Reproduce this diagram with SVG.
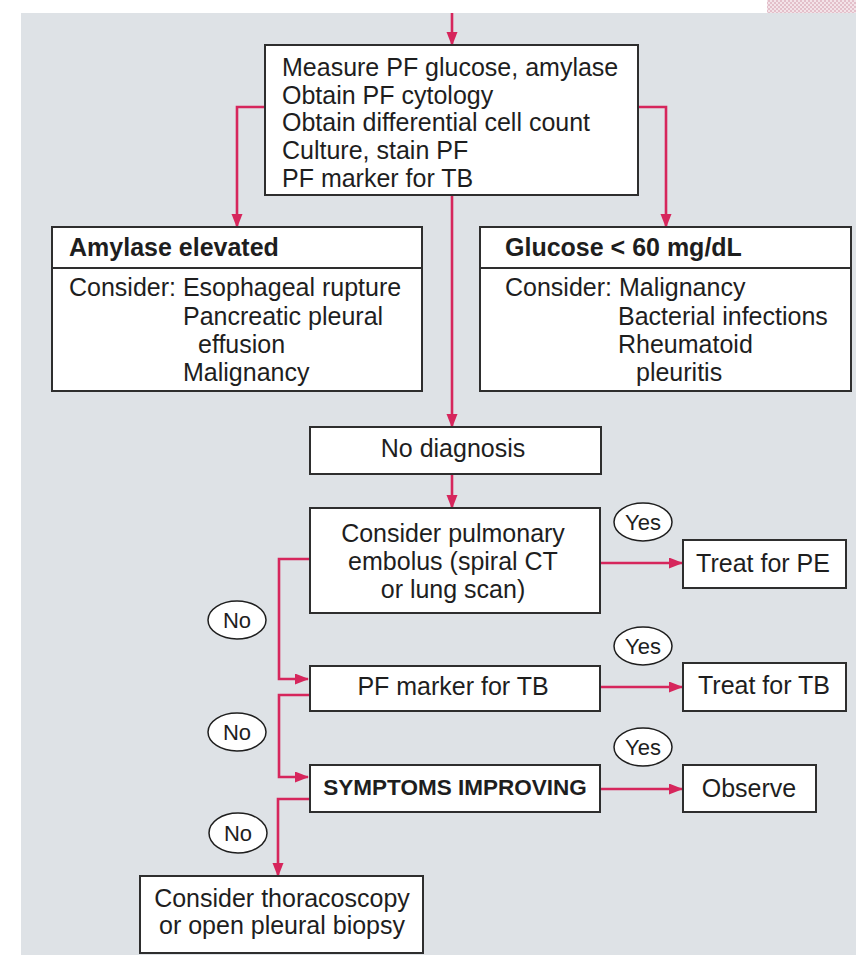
<svg xmlns="http://www.w3.org/2000/svg" width="856" height="955" viewBox="0 0 856 955">
<style>
.box{fill:#fff;stroke:#2e2e2e;stroke-width:2}
.t{font-family:"Liberation Sans",Arial,sans-serif;font-size:25px;fill:#1e1e1e}
.b{font-weight:bold}
.c{text-anchor:middle}
.lab{fill:#fff;stroke:#1e1e1e;stroke-width:1.5}
.lt{font-family:"Liberation Sans",Arial,sans-serif;font-size:22px;fill:#1e1e1e;text-anchor:middle}
.ln{fill:none;stroke:#d6265c;stroke-width:2.6}
</style>
<defs>
<marker id="ah" markerUnits="userSpaceOnUse" markerWidth="14" markerHeight="12" refX="13" refY="5.5" orient="auto">
<path d="M0,0 L14,5.5 L0,11 z" fill="#d6265c"/>
</marker>
<pattern id="chk" width="4" height="4" patternUnits="userSpaceOnUse">
<rect width="4" height="4" fill="#f3e3e8"/>
<rect width="2" height="2" fill="#e3bfca"/>
<rect x="2" y="2" width="2" height="2" fill="#e3bfca"/>
</pattern>
</defs>
<rect x="0" y="0" width="856" height="955" fill="#fff"/>
<rect x="21" y="13" width="835" height="942" fill="#dee2e6"/>
<rect x="767" y="0" width="89" height="13" fill="url(#chk)"/>

<g id="connectors">
<path class="ln" d="M452,13 V45" marker-end="url(#ah)"/>
<path class="ln" d="M265,107 H237 V227" marker-end="url(#ah)"/>
<path class="ln" d="M638,107 H666 V227" marker-end="url(#ah)"/>
<path class="ln" d="M452,195 V427" marker-end="url(#ah)"/>
<path class="ln" d="M452,474 V508" marker-end="url(#ah)"/>
<path class="ln" d="M310,559 H279 V679 H308" marker-end="url(#ah)"/>
<path class="ln" d="M310,695 H279 V777 H308" marker-end="url(#ah)"/>
<path class="ln" d="M310,799 H278 V876" marker-end="url(#ah)"/>
<path class="ln" d="M600,563 H682" marker-end="url(#ah)"/>
<path class="ln" d="M600,687 H682" marker-end="url(#ah)"/>
<path class="ln" d="M600,789 H682" marker-end="url(#ah)"/>
</g>

<g id="start">
<rect class="box" x="265" y="45" width="373" height="150"/>
<text class="t" x="282" y="76">Measure PF glucose, amylase</text>
<text class="t" x="282" y="104">Obtain PF cytology</text>
<text class="t" x="282" y="131">Obtain differential cell count</text>
<text class="t" x="282" y="159">Culture, stain PF</text>
<text class="t" x="282" y="187">PF marker for TB</text>
</g>

<g id="amylase">
<rect class="box" x="52" y="227" width="370" height="164"/>
<line x1="52" y1="268" x2="422" y2="268" stroke="#2e2e2e" stroke-width="2"/>
<text class="t b" x="69" y="256">Amylase elevated</text>
<text class="t" x="69" y="296">Consider: Esophageal rupture</text>
<text class="t" x="183" y="325">Pancreatic pleural</text>
<text class="t" x="198" y="353">effusion</text>
<text class="t" x="183" y="381">Malignancy</text>
</g>

<g id="glucose">
<rect class="box" x="480" y="227" width="371" height="164"/>
<line x1="480" y1="268" x2="851" y2="268" stroke="#2e2e2e" stroke-width="2"/>
<text class="t b" x="505" y="256">Glucose &lt; 60 mg/dL</text>
<text class="t" x="505" y="296">Consider: Malignancy</text>
<text class="t" x="618" y="325">Bacterial infections</text>
<text class="t" x="618" y="353">Rheumatoid</text>
<text class="t" x="636" y="381">pleuritis</text>
</g>

<g id="nodiag">
<rect class="box" x="310" y="427" width="291" height="47"/>
<text class="t c" x="453" y="457">No diagnosis</text>
</g>

<g id="pe">
<rect class="box" x="310" y="508" width="290" height="105"/>
<text class="t c" x="453" y="542">Consider pulmonary</text>
<text class="t c" x="453" y="570">embolus (spiral CT</text>
<text class="t c" x="453" y="598">or lung scan)</text>
</g>

<g id="tbmarker">
<rect class="box" x="310" y="666" width="290" height="45"/>
<text class="t c" x="453" y="695">PF marker for TB</text>
</g>

<g id="symptoms">
<rect class="box" x="310" y="765" width="290" height="47"/>
<text class="t b c" x="455" y="795" style="font-size:22.5px">SYMPTOMS IMPROVING</text>
</g>

<g id="treatpe">
<rect class="box" x="683" y="540" width="163" height="48"/>
<text class="t c" x="763" y="572">Treat for PE</text>
</g>

<g id="treattb">
<rect class="box" x="683" y="663" width="163" height="48"/>
<text class="t c" x="764" y="694">Treat for TB</text>
</g>

<g id="observe">
<rect class="box" x="683" y="765" width="133" height="47"/>
<text class="t c" x="749" y="797">Observe</text>
</g>

<g id="biopsy">
<rect class="box" x="140" y="876" width="283" height="77"/>
<text class="t c" x="282" y="907">Consider thoracoscopy</text>
<text class="t c" x="282" y="934">or open pleural biopsy</text>
</g>

<g id="labels">
<ellipse class="lab" cx="643" cy="522" rx="29" ry="19"/>
<text class="lt" x="643" y="530">Yes</text>
<ellipse class="lab" cx="643" cy="646" rx="29" ry="19"/>
<text class="lt" x="643" y="654">Yes</text>
<ellipse class="lab" cx="643" cy="747" rx="29" ry="19"/>
<text class="lt" x="643" y="755">Yes</text>
<ellipse class="lab" cx="237" cy="620" rx="29" ry="19"/>
<text class="lt" x="237" y="628">No</text>
<ellipse class="lab" cx="237" cy="732" rx="29" ry="19"/>
<text class="lt" x="237" y="740">No</text>
<ellipse class="lab" cx="238" cy="833" rx="29" ry="20"/>
<text class="lt" x="238" y="841">No</text>
</g>
</svg>
